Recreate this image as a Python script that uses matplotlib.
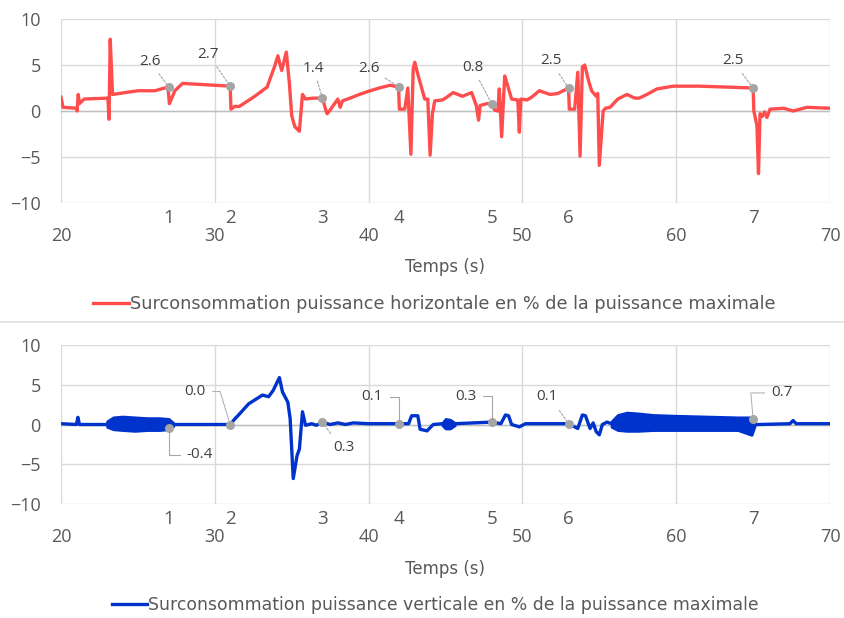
import matplotlib
matplotlib.use("Agg")
import matplotlib.pyplot as plt
from matplotlib.lines import Line2D

# horizontal power overconsumption (%)
t_h = [20.0, 20.13, 21.0, 21.05, 21.12, 21.2, 21.5, 23.05, 23.12, 23.2, 23.35, 25.0, 26.1,
       26.95, 27.05, 27.4, 27.9, 31.0, 31.05, 31.3, 31.6, 32.6, 33.4, 33.9, 34.1, 34.35,
       34.65, 34.85, 35.0, 35.2, 35.5, 35.7, 35.9, 36.4, 37.0, 37.2, 37.3, 37.5, 37.7, 38.0,
       38.15, 38.3, 38.8, 39.4, 40.1, 40.7, 41.4, 41.95, 42.0, 42.35, 42.55, 42.75, 42.9,
       43.0, 43.2, 43.5, 43.65, 43.85, 44.0, 44.15, 44.3, 44.8, 45.0, 45.5, 46.1, 46.7,
       47.0, 47.15, 47.25, 47.7, 48.0, 48.2, 48.4, 48.5, 48.65, 48.85, 49.0, 49.3, 49.7,
       49.8, 49.9, 50.3, 50.6, 51.1, 51.8, 52.3, 53.0, 53.05, 53.4, 53.6, 53.75, 53.9,
       54.05, 54.3, 54.5, 54.8, 54.9, 55.0, 55.25, 55.4, 55.7, 56.2, 56.8, 57.3, 57.6,
       58.1, 58.75, 59.8, 61.5, 65.0, 65.05, 65.25, 65.35, 65.45, 65.6, 65.75, 65.9, 66.1,
       67.0, 67.6, 68.5, 70.0]
v_h = [1.5, 0.4, 0.3, 0.0, 1.8, 0.8, 1.3, 1.4, -0.9, 7.8, 1.8, 2.2, 2.2,
       2.6, 0.8, 2.2, 3.0, 2.7, 0.2, 0.5, 0.5, 1.6, 2.6, 4.9, 6.0, 4.4,
       6.4, 3.0, -0.5, -1.7, -2.2, 1.8, 1.3, 1.4, 1.4, 0.2, -0.3, 0.1, 0.6, 1.3,
       0.4, 1.1, 1.4, 1.8, 2.2, 2.5, 2.8, 2.6, 0.2, 0.2, 2.5, -4.7, 4.6,
       5.3, 4.0, 2.2, 1.3, 1.3, -4.8, -0.3, 1.1, 1.2, 1.4, 2.0, 1.6, 2.0,
       0.6, -1.0, 0.6, 0.8, 0.8, 0.1, 0.0, 2.4, -2.8, 3.8, 3.0, 1.3, 1.2,
       -2.3, 1.3, 1.2, 1.5, 2.2, 1.8, 1.9, 2.5, 0.2, 0.2, 4.2, -4.9, 4.8,
       5.0, 3.3, 2.2, 1.6, 1.9, -5.9, 0.0, 0.3, 0.4, 1.3, 1.8, 1.4, 1.4,
       1.8, 2.4, 2.7, 2.7, 2.5, 0.0, -1.6, -6.8, -0.3, -0.6, -0.1, -0.7, 0.2,
       0.3, 0.0, 0.4, 0.3]

# vertical power overconsumption (%)
t_v = [20.0, 21.0, 21.1, 21.2, 23.0, 27.3, 31.0, 31.3, 31.5, 32.2, 33.1, 33.5, 33.8, 34.2,
       34.4, 34.75, 34.9, 35.1, 35.35, 35.5, 35.7, 35.9, 36.3, 36.6, 37.0, 37.5, 38.0,
       38.5, 39.0, 40.0, 41.9, 42.6, 42.8, 43.2, 43.35, 43.8, 44.2, 44.8, 45.6, 48.0,
       48.6, 48.9, 49.1, 49.3, 49.8, 50.2, 53.0, 53.6, 53.9, 54.1, 54.4, 54.6, 54.8,
       55.0, 55.2, 55.5, 55.8, 65.1, 65.4, 67.4, 67.6, 67.8, 70.0]
v_v = [0.1, 0.0, 0.9, 0.0, 0.0, 0.0, 0.0, 0.7, 1.1, 2.6, 3.7, 3.5, 4.3, 5.9,
       4.1, 2.8, 0.7, -6.8, -3.9, -3.1, 1.6, -0.1, 0.1, -0.1, 0.3, 0.0, 0.2,
       0.0, 0.2, 0.1, 0.1, 0.1, 1.1, 1.1, -0.6, -0.8, 0.0, 0.1, 0.1, 0.3,
       0.1, 1.2, 1.1, 0.0, -0.3, 0.1, 0.1, -0.5, 1.2, 1.1, -0.5, 0.2, -0.9,
       -1.3, 0.0, 0.3, 0.1, 0.0, 0.0, 0.1, 0.5, 0.1, 0.1]

# envelopes of the fast oscillation zones of the vertical series
band1_t = [23.0, 23.4, 24.0, 24.8, 25.6, 26.4, 27.0, 27.3]
band1_hi = [0.4, 0.9, 1.0, 0.9, 0.8, 0.8, 0.7, 0.2]
band1_lo = [-0.3, -0.6, -0.7, -0.8, -0.7, -0.7, -0.6, -0.2]
band2_t = [44.8, 45.0, 45.3, 45.6]
band2_hi = [0.2, 0.7, 0.6, 0.2]
band2_lo = [-0.1, -0.5, -0.5, -0.1]
band3_t = [55.8, 56.2, 56.8, 57.5, 58.5, 60.0, 62.0, 64.0, 64.9, 65.1]
band3_hi = [0.4, 1.2, 1.5, 1.4, 1.2, 1.1, 1.0, 0.9, 0.9, 0.2]
band3_lo = [-0.3, -0.7, -0.8, -0.8, -0.7, -0.7, -0.7, -0.7, -1.3, -0.2]

# labelled events
event_t = [27, 31, 37, 42, 48, 53, 65]
event_names = ["1", "2", "3", "4", "5", "6", "7"]
event_h = [2.6, 2.7, 1.4, 2.6, 0.8, 2.5, 2.5]
event_v = [-0.4, 0.0, 0.3, 0.1, 0.3, 0.1, 0.7]

x_ticks = [20, 30, 40, 50, 60, 70]
y_ticks = [-10, -5, 0, 5, 10]

RED = "#ff4d4d"
BLUE = "#0033cc"
GRID = "#d9d9d9"
TXT = "#595959"
tick_font = "Open Sans"
leg_font = ["Liberation Sans Narrow", "DejaVu Sans"]

fig = plt.figure(figsize=(8.45, 6.18), dpi=100)
W, H = 845, 618


def make_axes(top, bottom):
    ax = fig.add_axes([61 / W, 1 - bottom / H, 769 / W, (bottom - top) / H])
    ax.set_xlim(20, 70)
    ax.set_ylim(-10, 10)
    for s in ax.spines.values():
        s.set_visible(False)
    ax.set_xticks(x_ticks)
    ax.set_yticks(y_ticks)
    ax.grid(True, color=GRID, lw=1.0)
    ax.axhline(0, color="#bfbfbf", lw=1.0, zorder=1)
    ax.tick_params(length=0, labelsize=13, labelcolor=TXT)
    ax.tick_params(axis="x", pad=17)
    ax.tick_params(axis="y", pad=14.5)
    for lab in ax.get_xticklabels() + ax.get_yticklabels():
        lab.set_family(tick_font)
    ax.set_axisbelow(True)
    for t, name in zip(event_t, event_names):
        ax.annotate(name, xy=(t, 0), xycoords=("data", "axes fraction"),
                    xytext=(0, -15), textcoords="offset pixels",
                    ha="center", va="center", fontsize=13.5, color=TXT, family=tick_font)
    ax.set_xlabel("Temps (s)", fontsize=12, color=TXT, family=leg_font, labelpad=10)
    return ax


# ---- top chart
ax1 = make_axes(19, 203)
ax1.plot(t_h, v_h, color=RED, lw=2.4, solid_joinstyle="round", zorder=3,
         label="Surconsommation puissance horizontale en % de la puissance maximale")
ax1.scatter(event_t, event_h, s=30, color="#a5a5a5", zorder=4)
offs_h = [(-19, 26), (-22, 32), (-9, 30), (-30, 19), (-19, 36), (-18, 27), (-20, 27)]
for t, v, o in zip(event_t, event_h, offs_h):
    ax1.annotate(f"{v:.1f}", xy=(t, v), xytext=o, textcoords="offset pixels",
                 ha="center", va="center", fontsize=11, color="#404040", family=tick_font,
                 arrowprops=dict(arrowstyle="-", color="#a6a6a6", lw=0.8, ls=(0, (2, 1.5)),
                                 shrinkA=2, shrinkB=2))
ax1.legend(loc="center", bbox_to_anchor=(0.5 - 11 / 769, (203 - 304) / 184), frameon=False,
           prop={"family": leg_font, "size": 12.7}, labelcolor=TXT,
           handlelength=2.0, handletextpad=0.1)

# ---- bottom chart
ax2 = make_axes(345, 504)
for bt, bh, bl in [(band1_t, band1_hi, band1_lo), (band2_t, band2_hi, band2_lo),
                   (band3_t, band3_hi, band3_lo)]:
    ax2.fill_between(bt, bl, bh, color=BLUE, lw=2, zorder=3)
ax2.plot(t_v, v_v, color=BLUE, lw=2.4, solid_joinstyle="round", zorder=3,
         label="Surconsommation puissance verticale en % de la puissance maximale")
ax2.scatter(event_t, event_v, s=30, color="#a5a5a5", zorder=4)
offs_v = [(31, -27), (-35, 33), (21, -25), (-27, 27), (-26, 26), (-22, 27), (29, 26)]
conn_v = ["angle,angleA=0,angleB=90,rad=0", "angle,angleA=0,angleB=107,rad=0", "arc3",
          "angle,angleA=0,angleB=90,rad=0", "angle,angleA=0,angleB=90,rad=0", "arc3",
          "angle,angleA=0,angleB=95,rad=0"]
rel_v = [(0, 0.5), (1, 0.5), (0.2, 0.8), (1, 0.5), (1, 0.5), (0.8, 0.2), (0, 0.5)]
ls_v = ["-", (0, (1, 1)), (0, (2, 1.5)), "-", "-", (0, (2, 1.5)), (0, (1, 1))]
for t, v, o, c, r, ls in zip(event_t, event_v, offs_v, conn_v, rel_v, ls_v):
    ax2.annotate(f"{v:.1f}", xy=(t, v), xytext=o, textcoords="offset pixels",
                 ha="center", va="center", fontsize=11, color="#404040", family=tick_font,
                 arrowprops=dict(arrowstyle="-", color="#a6a6a6", lw=0.8, ls=ls,
                                 connectionstyle=c, relpos=r, shrinkA=3, shrinkB=2))
ax2.legend(loc="center", bbox_to_anchor=(0.5 - 10 / 769, (504 - 605) / 159), frameon=False,
           prop={"family": leg_font, "size": 12.4}, labelcolor=TXT,
           handlelength=2.0, handletextpad=0.1)

# separator between the two charts
fig.add_artist(Line2D([0, 1], [1 - 322 / H, 1 - 322 / H], transform=fig.transFigure,
                      color="#e0e0e0", lw=1.2))

fig.savefig("out.png", dpi=100)
